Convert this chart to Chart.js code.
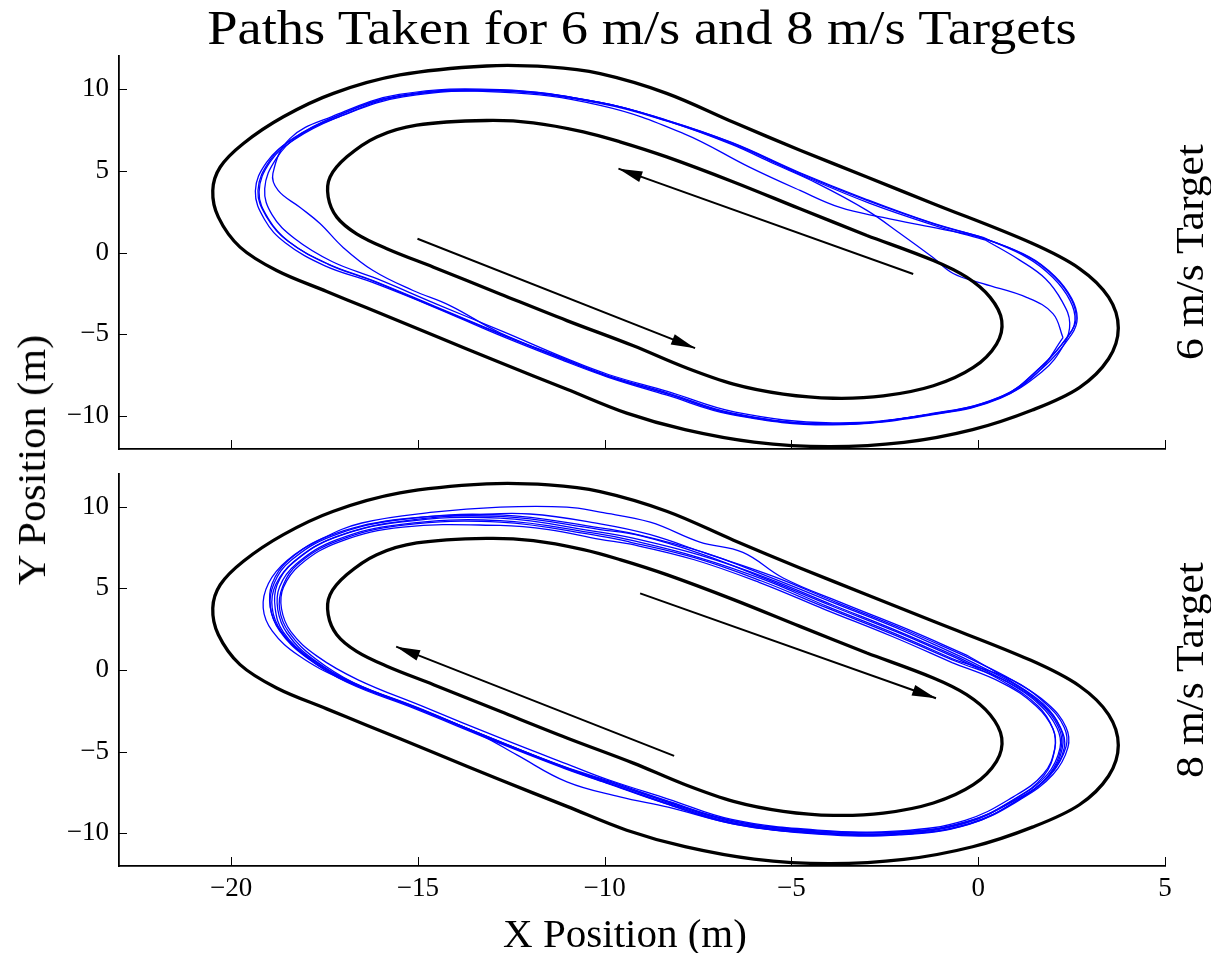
<!DOCTYPE html>
<html>
<head>
<meta charset="utf-8">
<script src="https://cdn.jsdelivr.net/npm/chart.js@4.4.1/dist/chart.umd.min.js"></script>
<style>
html, body { margin: 0; padding: 0; background: #fff; }
#wrap { position: relative; width: 1211px; height: 953px; overflow: hidden; font-family: 'Liberation Serif', serif; color: #000; }
canvas { position: absolute; left: 0; }
.lbl { position: absolute; white-space: nowrap; line-height: 1; }
</style>
</head>
<body>
<div id="wrap">
  <canvas id="top6" width="1211" height="460" style="top:0px"></canvas>
  <canvas id="bot8" width="1211" height="493" style="top:460px"></canvas>
  <div class="lbl" id="title" style="font-size:48px">Paths Taken for 6 m/s and 8 m/s Targets</div>
  <div class="lbl" id="xlab" style="font-size:40px">X Position (m)</div>
  <div class="lbl" id="ylab" style="font-size:40px">Y Position (m)</div>
  <div class="lbl" id="lab6" style="font-size:40px">6 m/s Target</div>
  <div class="lbl" id="lab8" style="font-size:40px">8 m/s Target</div>
</div>
<script>
// axis ticks
const xTicks = [-20, -15, -10, -5, 0, 5];
const yTicks = [-10, -5, 0, 5, 10];

// track edges (same in both plots)
const trackOuter = [
  [-1.2, 2.98], [1.41, 0.59], [2.71, -0.98], [3.49, -2.73],
  [3.75, -4.61], [3.49, -6.49], [2.71, -8.25], [1.45, -9.62], [-0.15, -10.82], [-1.99, -11.6],
  [-4.0, -11.86], [-6.0, -11.58], [-7.85, -10.82], [-9.41, -9.81], [-11.01, -8.35], [-12.8, -6.72],
  [-14.58, -5.05], [-16.37, -3.38], [-17.44, -2.38], [-18.78, -1.1], [-19.76, 0.33], [-20.34, 2.16],
  [-20.49, 3.79], [-20.29, 5.22], [-19.67, 6.66], [-18.6, 8.29], [-17.26, 9.72], [-15.48, 10.84],
  [-13.16, 11.39], [-11.5, 11.33], [-10.12, 10.92], [-8.34, 9.72], [-6.55, 7.95], [-4.77, 6.25],
  [-2.98, 4.61], [-1.2, 2.98]
];
const trackInner = [
  [-2.98, 1.04], [-1.2, -0.49], [-0.31, -1.51], [0.32, -2.74],
  [0.63, -4.16], [0.49, -5.59], [-0.13, -7.02], [-1.2, -8.14], [-2.54, -8.76], [-3.88, -8.9],
  [-5.22, -8.65], [-6.55, -8.04], [-7.89, -6.98], [-9.23, -5.7], [-11.01, -4.16], [-12.8, -2.53],
  [-14.58, -0.9], [-15.83, 0.23], [-16.64, 1.14], [-17.17, 2.16], [-17.4, 3.39], [-17.35, 4.61],
  [-16.9, 5.84], [-16.1, 7.06], [-15.03, 7.78], [-13.16, 8.06], [-11.91, 7.92], [-10.57, 7.37],
  [-9.59, 6.76], [-8.34, 5.84], [-6.55, 4.31], [-4.77, 2.67], [-2.98, 1.04]
];

// 6 m/s laps
const lap6a = [
  [0.13, 0.92], [-1.21, 1.77], [-2.98, 3.18], [-4.77, 4.83], [-6.56, 6.67], [-8.33, 8.07], [-10.12, 9.17],
  [-12.8, 9.91], [-15.48, 9.6], [-17.27, 8.26], [-18.34, 6.97], [-18.96, 5.63], [-19.28, 3.79], [-19.04, 2.14],
  [-18.5, 0.73], [-17.43, -0.67], [-16.2, -1.71], [-14.59, -3.24], [-12.8, -4.95], [-11.01, -6.6], [-9.9, -7.56],
  [-8.33, -8.62], [-6.56, -9.85], [-3.89, -10.46], [-1.21, -9.85], [0.58, -8.87], [1.65, -7.03], [2.38, -5.2],
  [2.59, -4.16], [2.46, -2.94], [2.0, -1.53], [1.31, -0.31], [0.13, 0.92]
];
const lap6b = [
  [0.2, 0.75], [-1.1, 1.6], [-2.9, 3.0], [-4.7, 4.7], [-6.5, 6.55], [-8.3, 8.0], [-10.1, 9.1], [-12.8, 9.85],
  [-15.4, 9.5], [-17.1, 8.3], [-18.2, 7.1], [-18.8, 5.7], [-19.1, 3.9], [-18.9, 2.3], [-18.3, 0.85], [-17.3, -0.55],
  [-16.1, -1.6], [-14.5, -3.15], [-12.7, -4.85], [-11.0, -6.5], [-9.9, -7.45], [-8.3, -8.5], [-6.5, -9.75],
  [-3.9, -10.4], [-1.3, -9.9], [0.5, -8.95], [1.7, -7.3], [2.3, -5.6], [2.45, -4.3], [2.25, -3.0], [1.8, -1.6],
  [1.1, -0.45], [0.2, 0.75]
];
const lap6c = [
  [0.0, 1.0], [-1.3, 1.85], [-3.0, 3.25], [-4.8, 4.9], [-6.6, 6.72], [-8.4, 8.12], [-10.2, 9.2], [-12.8, 9.95],
  [-15.5, 9.65], [-17.3, 8.3], [-18.42, 6.97], [-18.88, 4.83], [-18.74, 3.79], [-18.15, 2.75], [-17.62, 1.77],
  [-17.0, 0.31], [-16.2, -1.1], [-15.13, -2.32], [-14.14, -3.24], [-12.8, -4.9], [-11.0, -6.55], [-9.9, -7.52],
  [-8.3, -8.58], [-6.6, -9.8], [-3.9, -10.5], [-1.2, -9.9], [0.6, -8.9], [1.7, -7.1], [2.5, -5.0], [2.65, -4.0],
  [2.5, -2.8], [2.05, -1.45], [1.35, -0.25], [0.0, 1.0]
];
const lap6d = [
  [2.27, -5.2], [2.0, -3.73], [1.31, -2.75], [0.13, -1.9], [-0.67, -1.28], [-1.21, -0.31], [-2.09, 1.16],
  [-2.98, 2.57], [-4.31, 4.22], [-5.5, 5.45], [-6.6, 6.6], [-8.35, 8.05], [-10.1, 9.15], [-12.8, 9.88],
  [-15.45, 9.55], [-17.2, 8.2], [-18.3, 6.9], [-18.95, 5.55], [-19.25, 3.7], [-19.0, 2.05], [-18.45, 0.65],
  [-17.4, -0.72], [-16.2, -1.75], [-14.6, -3.28], [-12.8, -4.98], [-11.0, -6.62], [-9.9, -7.58], [-8.3, -8.65],
  [-6.55, -9.88], [-3.9, -10.48], [-1.2, -9.85], [0.55, -8.85], [1.6, -7.3], [2.27, -5.2]
];
const lap6e = [
  [-1.21, 1.53], [-2.55, 2.14], [-3.7, 2.75], [-4.77, 3.79], [-6.11, 5.2], [-7.9, 7.28], [-10.12, 8.99],
  [-12.8, 9.8], [-15.5, 9.55], [-17.35, 8.15], [-18.4, 6.85], [-19.05, 5.5], [-19.35, 3.75], [-19.1, 2.0],
  [-18.55, 0.6], [-17.5, -0.8], [-16.25, -1.8], [-14.6, -3.3], [-12.85, -5.02], [-11.05, -6.65], [-9.9, -7.62],
  [-8.35, -8.7], [-6.6, -9.9], [-3.9, -10.52], [-1.15, -9.8], [0.62, -8.8], [1.7, -6.95], [2.4, -5.1],
  [2.62, -4.1], [2.5, -2.9], [2.05, -1.5], [1.35, -0.28], [0.15, 0.85], [-1.21, 1.53]
];

// 8 m/s laps
const lap8a = [
  [-0.49, 0.73], [-2.09, 2.32], [-3.89, 3.98], [-5.65, 5.63], [-7.45, 7.03], [-9.24, 8.07], [-10.12, 8.44],
  [-12.8, 9.3], [-15.48, 9.05], [-17.27, 8.07], [-18.34, 6.6], [-18.77, 5.2], [-18.82, 3.79], [-18.6, 2.32],
  [-17.89, 0.73], [-16.81, -0.73], [-15.02, -2.32], [-12.8, -4.4], [-11.01, -5.99], [-9.9, -6.85], [-8.33, -8.07],
  [-6.56, -9.3], [-4.31, -9.91], [-2.09, -9.97], [-0.3, -9.3], [1.04, -7.83], [1.84, -6.42], [2.19, -4.77],
  [2.11, -3.55], [1.65, -2.14], [0.77, -0.73], [-0.49, 0.73]
];
const lap8b = [
  [-0.3, 0.9], [-1.9, 2.5], [-3.7, 4.15], [-5.22, 5.63], [-6.3, 7.2], [-7.45, 7.83], [-8.78, 9.05],
  [-10.12, 9.66], [-11.01, 9.97], [-12.8, 9.97], [-14.59, 9.66], [-16.5, 9.0], [-17.6, 8.0], [-18.5, 6.7],
  [-19.0, 5.3], [-19.14, 3.8], [-18.9, 2.4], [-18.2, 0.9], [-17.0, -0.6], [-15.1, -2.25], [-12.9, -4.3],
  [-11.1, -5.9], [-9.9, -6.78], [-8.4, -7.95], [-6.6, -9.2], [-4.3, -9.85], [-2.1, -9.9], [-0.4, -9.4],
  [1.0, -7.95], [1.9, -6.5], [2.3, -4.8], [2.2, -3.5], [1.75, -2.1], [0.85, -0.65], [-0.3, 0.9]
];
const lap8c = [
  [-0.6, 0.6], [-2.2, 2.2], [-4.0, 3.85], [-5.7, 5.5], [-7.5, 6.9], [-9.3, 7.95], [-10.2, 8.35], [-12.8, 9.15],
  [-15.5, 8.9], [-17.2, 7.95], [-18.25, 6.5], [-18.7, 5.1], [-18.75, 3.7], [-18.5, 2.25], [-17.8, 0.65],
  [-16.7, -0.8], [-14.9, -2.4], [-13.3, -4.0], [-12.35, -5.2], [-11.01, -6.85], [-9.59, -7.77], [-8.3, -8.4],
  [-6.5, -9.45], [-4.3, -10.05], [-2.1, -10.1], [-0.25, -9.45], [1.1, -7.9], [1.95, -6.35], [2.35, -4.7],
  [2.3, -3.5], [1.8, -2.05], [0.9, -0.6], [-0.6, 0.6]
];
const lap8d = [
  [-0.7, 0.45], [-2.3, 2.05], [-4.1, 3.7], [-5.85, 5.35], [-7.6, 6.75], [-9.3, 7.7], [-10.12, 8.0], [-11.5, 8.6],
  [-12.8, 8.85], [-15.4, 8.75], [-17.1, 7.85], [-18.15, 6.45], [-18.6, 5.05], [-18.65, 3.75], [-18.4, 2.35],
  [-17.7, 0.85], [-16.6, -0.6], [-14.9, -2.2], [-12.7, -4.25], [-10.9, -5.85], [-9.9, -6.72], [-8.3, -7.9],
  [-6.6, -9.15], [-4.3, -9.8], [-2.1, -9.85], [-0.35, -9.2], [0.95, -7.75], [1.75, -6.35], [2.05, -4.8],
  [2.0, -3.6], [1.55, -2.2], [0.65, -0.8], [-0.7, 0.45]
];
const lap8e = [
  [-0.35, 0.85], [-1.95, 2.45], [-3.75, 4.1], [-5.5, 5.75], [-7.3, 7.15], [-8.8, 8.3], [-10.12, 8.95],
  [-12.0, 9.55], [-13.5, 9.5], [-15.6, 9.2], [-17.4, 8.2], [-18.45, 6.75], [-18.9, 5.3], [-18.95, 3.85],
  [-18.7, 2.4], [-18.0, 0.8], [-16.9, -0.65], [-15.1, -2.25], [-12.9, -4.35], [-11.1, -5.95], [-9.95, -6.88],
  [-8.4, -8.15], [-6.6, -9.4], [-4.3, -10.0], [-2.0, -10.05], [-0.2, -9.4], [1.15, -7.9], [2.0, -6.4],
  [2.4, -4.75], [2.35, -3.5], [1.85, -2.05], [0.9, -0.6], [-0.35, 0.85]
];
const lap8f = [
  [-0.55, 0.7], [-2.15, 2.3], [-3.95, 3.95], [-5.7, 5.6], [-7.4, 7.1], [-9.0, 8.2], [-10.12, 8.6], [-12.8, 9.4],
  [-15.3, 9.15], [-17.2, 8.15], [-18.3, 6.65], [-18.8, 5.25], [-18.9, 3.8], [-18.65, 2.35], [-17.95, 0.75],
  [-16.9, -0.75], [-15.1, -2.35], [-12.85, -4.45], [-11.05, -6.05], [-9.95, -6.92], [-8.4, -8.15], [-6.6, -9.35],
  [-4.3, -9.95], [-2.1, -10.0], [-0.3, -9.35], [1.0, -7.85], [1.75, -6.5], [2.05, -4.85], [2.0, -3.6],
  [1.6, -2.2], [0.7, -0.75], [-0.55, 0.7]
];
const lap8g = [
  [-0.45, 0.8], [-2.0, 2.4], [-3.8, 4.05], [-5.6, 5.7], [-7.35, 7.2], [-9.15, 8.3], [-10.12, 8.7], [-12.8, 9.5],
  [-15.5, 9.2], [-17.3, 8.2], [-18.4, 6.7], [-18.85, 5.3], [-18.95, 3.85], [-18.7, 2.45], [-18.0, 0.85],
  [-16.95, -0.65], [-15.2, -2.2], [-13.0, -4.2], [-11.2, -5.85], [-10.0, -6.78], [-8.45, -7.95], [-6.65, -9.2],
  [-4.35, -9.85], [-2.1, -9.92], [-0.35, -9.3], [1.05, -7.9], [1.9, -6.45], [2.25, -4.8], [2.2, -3.55],
  [1.72, -2.12], [0.82, -0.68], [-0.45, 0.8]
];
const lap8h = [
  [-0.62, 0.55], [-2.25, 2.15], [-4.05, 3.8], [-5.8, 5.45], [-7.55, 6.85], [-9.35, 7.85], [-10.12, 8.2],
  [-12.8, 9.05], [-15.45, 8.85], [-17.15, 7.9], [-18.2, 6.5], [-18.62, 5.1], [-18.7, 3.72], [-18.45, 2.3],
  [-17.75, 0.7], [-16.7, -0.8], [-14.95, -2.4], [-12.75, -4.5], [-10.95, -6.1], [-9.85, -6.98], [-8.25, -8.2],
  [-6.5, -9.4], [-4.25, -10.0], [-2.05, -10.05], [-0.25, -9.4], [1.08, -7.95], [1.88, -6.45], [2.22, -4.75],
  [2.15, -3.5], [1.68, -2.1], [0.78, -0.72], [-0.62, 0.55]
];

// direction arrows: [tail, tip]
const arrows6 = [[[-15.01, 0.84], [-7.58, -5.84]], [[-1.74, -1.31], [-9.63, 5.12]]];
const arrows8 = [[[-9.05, 4.69], [-1.13, -1.73]], [[-8.14, -5.26], [-15.58, 1.43]]];

const pts = a => a.map(p => ({x: p[0], y: p[1]}));
const fmt = v => v < 0 ? '\u2212' + (-v) : String(v);

function makeDatasets(laps, arrows) {
  const ds = [];
  [trackOuter, trackInner].forEach(t => ds.push({
    data: pts(t), borderColor: '#000', borderWidth: 3.3, tension: 0.35, showLine: true, pointRadius: 0
  }));
  arrows.forEach(a => ds.push({
    data: pts(a), borderColor: '#000', borderWidth: 2, showLine: true, pointRadius: 0, arrow: true
  }));
  laps.forEach(l => ds.push({
    data: pts(l), borderColor: '#0000ff', borderWidth: 1.3, tension: 0.4, showLine: true, pointRadius: 0
  }));
  return ds;
}

// matplotlib style ticks pointing into the plot
const inwardTicks = {
  id: 'inwardTicks',
  afterDraw(chart) {
    const ctx = chart.ctx, a = chart.chartArea;
    const xs = chart.scales.x, ys = chart.scales.y;
    ctx.save();
    ctx.strokeStyle = '#000';
    ctx.lineWidth = 1;
    xTicks.forEach(v => {
      const p = Math.round(xs.getPixelForValue(v)) + 0.5;
      ctx.beginPath(); ctx.moveTo(p, a.bottom); ctx.lineTo(p, a.bottom - 9); ctx.stroke();
    });
    yTicks.forEach(v => {
      const p = Math.round(ys.getPixelForValue(v)) + 0.5;
      ctx.beginPath(); ctx.moveTo(a.left, p); ctx.lineTo(a.left + 8, p); ctx.stroke();
    });
    ctx.restore();
  }
};

const arrowHeads = {
  id: 'arrowHeads',
  afterDatasetsDraw(chart) {
    const ctx = chart.ctx;
    chart.data.datasets.forEach((ds, i) => {
      if (!ds.arrow) return;
      const el = chart.getDatasetMeta(i).data;
      const a = el[0], b = el[el.length - 1];
      const ang = Math.atan2(b.y - a.y, b.x - a.x);
      ctx.save();
      ctx.translate(b.x, b.y);
      ctx.rotate(ang);
      ctx.beginPath();
      ctx.moveTo(0, 0);
      ctx.lineTo(-24, 5.5);
      ctx.lineTo(-24, -5.5);
      ctx.closePath();
      ctx.fillStyle = '#000';
      ctx.fill();
      ctx.restore();
    });
  }
};

function makeChart(id, laps, arrows, padTop, xHeight, showXLabels) {
  return new Chart(document.getElementById(id), {
    type: 'scatter',
    data: { datasets: makeDatasets(laps, arrows) },
    options: {
      responsive: false,
      animation: false,
      events: [],
      layout: { padding: { top: padTop, right: 46, bottom: 0, left: 0 } },
      plugins: { legend: { display: false }, tooltip: { enabled: false } },
      scales: {
        x: {
          type: 'linear', min: -23, max: 5,
          grid: { display: false, drawTicks: false },
          border: { display: true, color: '#000', width: 1.8 },
          ticks: {
            display: showXLabels, autoSkip: false, maxRotation: 0, padding: 7, color: '#000',
            font: { family: 'Liberation Serif', size: 27 }, callback: fmt
          },
          afterBuildTicks: s => { s.ticks = xTicks.map(v => ({ value: v })); },
          afterFit: s => { s.height = xHeight; s.paddingLeft = 0; s.paddingRight = 0; }
        },
        y: {
          type: 'linear', min: -12, max: 12,
          grid: { display: false, drawTicks: false },
          border: { display: true, color: '#000', width: 1.8 },
          ticks: {
            autoSkip: false, padding: 10, color: '#000',
            font: { family: 'Liberation Serif', size: 27 }, callback: fmt
          },
          afterBuildTicks: s => { s.ticks = yTicks.map(v => ({ value: v })); },
          afterFit: s => { s.width = 119; s.paddingTop = 0; s.paddingBottom = 0; }
        }
      }
    },
    plugins: [inwardTicks, arrowHeads]
  });
}

makeChart('top6', [lap6a, lap6b, lap6c, lap6d, lap6e], arrows6, 56, 11, false);
makeChart('bot8', [lap8a, lap8b, lap8c, lap8d, lap8e, lap8f, lap8g, lap8h], arrows8, 14, 87, true);

// text labels, stretched to the widths seen in the picture
function place(id, cx, cy, w, rot) {
  const el = document.getElementById(id);
  const s = w / el.offsetWidth;
  el.style.left = cx + 'px';
  el.style.top = cy + 'px';
  el.style.transform = 'translate(-50%,-50%) rotate(' + rot + 'deg) scaleX(' + s + ')';
}
place('title', 642, 27.8, 870, 0);
place('xlab', 625, 933.5, 244, 0);
place('ylab', 31.5, 460, 250, -90);
place('lab6', 1190, 252, 216, -90);
place('lab8', 1190, 670, 216, -90);
</script>
</body>
</html>
